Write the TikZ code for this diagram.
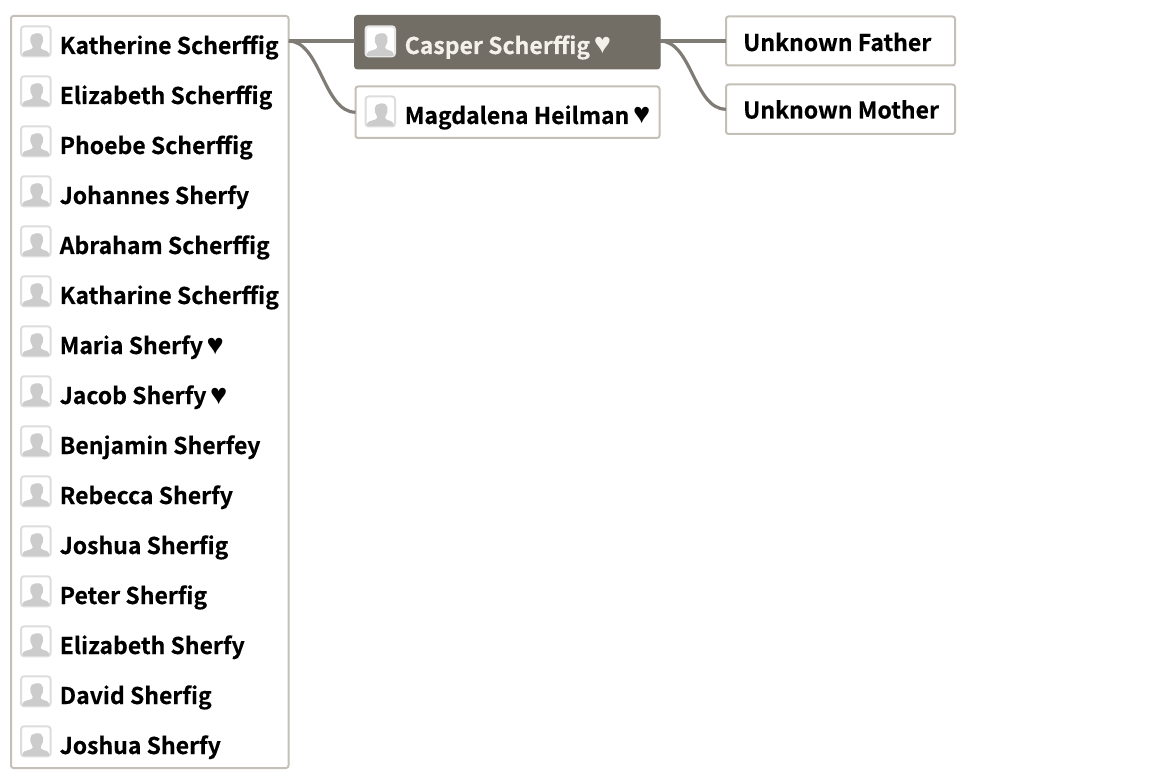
\documentclass[tikz,border=0pt]{standalone}
\usepackage{fontspec}
\setmainfont{Noto Sans CJK SC}[BoldFont={Noto Sans CJK SC Bold},BoldFeatures={FakeBold=0.3},Ligatures=Common]
\newfontfamily\heartfont{Liberation Sans Bold}
\newcommand{\hrt}{\kern-1.5pt{\fontsize{29}{30}\heartfont ♥}}
\definecolor{edgegray}{HTML}{C4C0B8}
\definecolor{linkgray}{HTML}{7F7C75}
\definecolor{darkbox}{HTML}{726D65}
\definecolor{creamtext}{HTML}{F4F1EA}
\definecolor{iconedge}{HTML}{DDDDDD}
\definecolor{iconshape}{HTML}{CCCCCC}
\tikzset{
  panel/.style={draw=edgegray,line width=2,rounded corners=2.5,fill=white,outer sep=0,inner sep=0,anchor=north west},
  darkpanel/.style={draw=darkbox,line width=1,rounded corners=3,fill=darkbox,outer sep=0,inner sep=0,anchor=north west},
  label/.style={anchor=base west,inner sep=0,font=\fontsize{23}{28}\selectfont\bfseries,text=black},
  iconbox/.style={draw=iconedge,line width=2,rounded corners=3,fill=white,minimum width=29.5,minimum height=30,inner sep=0,outer sep=0,anchor=north west},
  link/.style={draw=linkgray,line width=3.2},
  pics/person/.style={code={
    \path[fill=iconshape,rounded corners=1]
      (1,29.5) -- (2,26) .. controls (5,24) and (11,23.5) .. (12,20.5)
      .. controls (8,15) and (8,7.5) .. (15.5,7)
      .. controls (23,6.5) and (23.5,15) .. (19.5,20.5)
      .. controls (20,23.5) and (25,24) .. (27.5,26) -- (28.5,29.5) -- cycle;
  }}
}
\newcommand{\personrow}[3]{%
  \node[iconbox] (#1i) at (21,#2-25.7) {};
  \pic at (21,#2-25.7) {person};
  \node[label] (#1) at (59.5,#2+2) {#3};
}
\begin{document}
\begin{tikzpicture}[x=1pt,y=-1pt]
\useasboundingbox[fill=white] (0,0) rectangle (1153,783);
\node[panel,minimum width=277.5,minimum height=752] (list) at (11,16) {};
\node[darkpanel,minimum width=305.5,minimum height=53.5] (casper) at (354.5,15.5) {};
\node[panel,minimum width=304,minimum height=51.5] (magda) at (355.5,86.5) {};
\node[panel,minimum width=229,minimum height=49] (father) at (726,16.5) {};
\node[panel,minimum width=229,minimum height=49.5] (mother) at (726,84.5) {};
\coordinate (listout) at (list.east |- father.west);
\coordinate (casperout) at (casper.east |- father.west);
\coordinate (casperin) at (casper.west |- father.west);
\draw[link] (listout) -- (casperin);
\draw[link] (listout) .. controls +(32,0) and ([xshift=-32]magda.west) .. (magda.west);
\draw[link] (casperout) -- (father.west);
\draw[link] (casperout) .. controls +(32,0) and ([xshift=-32]mother.west) .. (mother.west);
\personrow{r1}{52}{Katherine Scherffig}
\personrow{r2}{102}{Elizabeth Scherffig}
\personrow{r3}{152}{Phoebe Scherffig}
\personrow{r4}{202}{Johannes Sherfy}
\personrow{r5}{252}{Abraham Scherffig}
\personrow{r6}{302}{Katharine Scherffig}
\personrow{r7}{352}{Maria Sherfy \hrt}
\personrow{r8}{402}{Jacob Sherfy \hrt}
\personrow{r9}{452}{Benjamin Sherfey}
\personrow{r10}{502}{Rebecca Sherfy}
\personrow{r11}{552}{Joshua Sherfig}
\personrow{r12}{602}{Peter Sherfig}
\personrow{r13}{652}{Elizabeth Sherfy}
\personrow{r14}{702}{David Sherfig}
\personrow{r15}{752}{Joshua Sherfy}
\node[iconbox,draw=iconedge!70] (ci) at (365.5,26.3) {};
\pic at (365.5,26.3) {person};
\node[label,text=creamtext] (ct) at (404.5,54) {Casper Scherffig \hrt};
\node[iconbox] (mi) at (365.5,96.5) {};
\pic at (365.5,96.5) {person};
\node[label] (mt) at (404.5,124) {Magdalena Heilman \hrt};
\node[label] (ft) at (743,51) {Unknown Father};
\node[label] (mot) at (743,118.5) {Unknown Mother};
\end{tikzpicture}
\end{document}
